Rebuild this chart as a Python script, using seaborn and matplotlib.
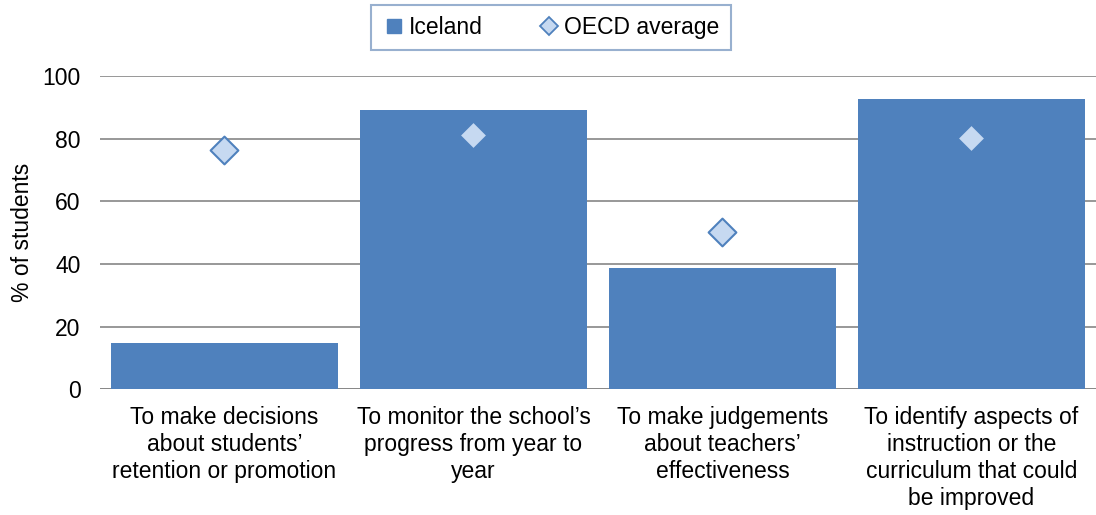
import matplotlib
matplotlib.use("Agg")
import matplotlib.pyplot as plt
import seaborn as sns
import pandas as pd
from matplotlib.lines import Line2D

categories = [
    "To make decisions\nabout students\u2019\nretention or promotion",
    "To monitor the school\u2019s\nprogress from year to\nyear",
    "To make judgements\nabout teachers\u2019\neffectiveness",
    "To identify aspects of\ninstruction or the\ncurriculum that could\nbe improved",
]
iceland = [14.7, 89.2, 38.8, 92.7]
oecd_average = [76.4, 81.2, 50.3, 80.2]
y_ticks = [0, 20, 40, 60, 80, 100]

bar_color = "#4F81BD"
diamond_fill = "#C6D9F1"
fs = 16.5

sns.set_theme(style="white")
plt.rcParams["font.family"] = ["Liberation Sans", "DejaVu Sans"]
plt.rcParams["text.color"] = "black"
plt.rcParams["axes.labelcolor"] = "black"
plt.rcParams["xtick.color"] = "black"
plt.rcParams["ytick.color"] = "black"

df = pd.DataFrame({"category": categories, "Iceland": iceland, "OECD average": oecd_average})

fig = plt.figure(figsize=(10.96, 5.15), dpi=100)
ax = fig.add_axes([0.0912, 0.2439, 0.9088, 0.6085])

sns.barplot(data=df, x="category", y="Iceland", color=bar_color, width=0.91,
            saturation=1, ax=ax, zorder=2, edgecolor="none")
sns.scatterplot(data=df, x="category", y="OECD average", marker="D", s=200,
                color=diamond_fill, edgecolor=bar_color, linewidth=1.5, ax=ax, zorder=3)

ax.set_xlim(-0.5, 3.5)
ax.set_ylim(0, 100)
ax.set_yticks(y_ticks)
ax.yaxis.grid(True, color="#868686", linewidth=1.2, zorder=0)
ax.xaxis.grid(False)
for s in ax.spines.values():
    s.set_visible(False)
ax.axhline(0, color="#868686", linewidth=1.2, zorder=1)

ax.tick_params(axis="y", length=0, pad=14, labelsize=fs)
ax.tick_params(axis="x", length=0, pad=12, labelsize=fs)
for lbl in ax.get_xticklabels():
    lbl.set_linespacing(1.22)
ax.set_xlabel("")
ax.set_ylabel("% of students", fontsize=fs, labelpad=6)

handles = [
    Line2D([], [], marker="s", linestyle="none", markersize=10,
           markerfacecolor=bar_color, markeredgecolor=bar_color),
    Line2D([], [], marker="D", linestyle="none", markersize=9.5,
           markerfacecolor=diamond_fill, markeredgecolor=bar_color, markeredgewidth=1.3),
]
leg = fig.legend(handles, ["Iceland", "OECD average"], loc="center",
                 bbox_to_anchor=(0.5027, 0.9466), ncol=2, fontsize=fs, frameon=True,
                 fancybox=False, handletextpad=0.15, columnspacing=2.4,
                 borderpad=0.5, handlelength=1.0, borderaxespad=0)
leg.get_frame().set_edgecolor("#7F9CC4")
leg.get_frame().set_linewidth(1.5)

fig.savefig("out.png", dpi=100, facecolor="white")
